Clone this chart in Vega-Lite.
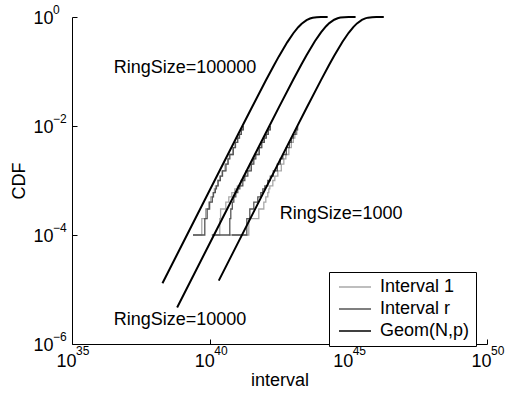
{
  "$schema": "https://vega.github.io/schema/vega-lite/v6.json",
  "width": 415,
  "height": 327,
  "autosize": {"type": "none"},
  "padding": {"left": 72, "top": 17, "right": 20, "bottom": 49},
  "background": "white",
  "config": {
    "view": {"stroke": null},
    "font": "Liberation Sans",
    "axis": {
      "grid": false,
      "domainColor": "black",
      "tickColor": "black",
      "labelColor": "black",
      "titleColor": "black",
      "labelFontSize": 18,
      "titleFontSize": 18,
      "titleFontWeight": "normal",
      "labelFont": "Liberation Sans",
      "titleFont": "Liberation Sans",
      "tickSize": -5,
      "labelFlush": false,
      "labelOverlap": false
    }
  },
  "datasets": {
    "curves": [
      {"series": "Geom(N,p)", "ring": "100000", "x": 1.86e38, "F": 1.302e-5},
      {"series": "Geom(N,p)", "ring": "100000", "x": 1e41, "F": 0.006976},
      {"series": "Geom(N,p)", "ring": "100000", "x": 3e41, "F": 0.02078},
      {"series": "Geom(N,p)", "ring": "100000", "x": 1e42, "F": 0.06761},
      {"series": "Geom(N,p)", "ring": "100000", "x": 2e42, "F": 0.1306},
      {"series": "Geom(N,p)", "ring": "100000", "x": 3e42, "F": 0.1894},
      {"series": "Geom(N,p)", "ring": "100000", "x": 6e42, "F": 0.343},
      {"series": "Geom(N,p)", "ring": "100000", "x": 1e43, "F": 0.5034},
      {"series": "Geom(N,p)", "ring": "100000", "x": 1.5e43, "F": 0.6501},
      {"series": "Geom(N,p)", "ring": "100000", "x": 2e43, "F": 0.7534},
      {"series": "Geom(N,p)", "ring": "100000", "x": 3e43, "F": 0.8775},
      {"series": "Geom(N,p)", "ring": "100000", "x": 4e43, "F": 0.9392},
      {"series": "Geom(N,p)", "ring": "100000", "x": 5e43, "F": 0.9698},
      {"series": "Geom(N,p)", "ring": "100000", "x": 7e43, "F": 0.99255},
      {"series": "Geom(N,p)", "ring": "100000", "x": 1e44, "F": 0.99909},
      {"series": "Geom(N,p)", "ring": "100000", "x": 1.74e44, "F": 0.999995},
      {"series": "Geom(N,p)", "ring": "10000", "x": 6.31e38, "F": 4.67e-6},
      {"series": "Geom(N,p)", "ring": "10000", "x": 1e42, "F": 0.007373},
      {"series": "Geom(N,p)", "ring": "10000", "x": 3e42, "F": 0.02196},
      {"series": "Geom(N,p)", "ring": "10000", "x": 1e43, "F": 0.07133},
      {"series": "Geom(N,p)", "ring": "10000", "x": 2e43, "F": 0.1376},
      {"series": "Geom(N,p)", "ring": "10000", "x": 3e43, "F": 0.1991},
      {"series": "Geom(N,p)", "ring": "10000", "x": 6e43, "F": 0.3585},
      {"series": "Geom(N,p)", "ring": "10000", "x": 1e44, "F": 0.5229},
      {"series": "Geom(N,p)", "ring": "10000", "x": 1.5e44, "F": 0.6704},
      {"series": "Geom(N,p)", "ring": "10000", "x": 2e44, "F": 0.7724},
      {"series": "Geom(N,p)", "ring": "10000", "x": 3e44, "F": 0.8914},
      {"series": "Geom(N,p)", "ring": "10000", "x": 4e44, "F": 0.9482},
      {"series": "Geom(N,p)", "ring": "10000", "x": 5e44, "F": 0.9753},
      {"series": "Geom(N,p)", "ring": "10000", "x": 7e44, "F": 0.99437},
      {"series": "Geom(N,p)", "ring": "10000", "x": 1e45, "F": 0.99939},
      {"series": "Geom(N,p)", "ring": "10000", "x": 1.78e45, "F": 0.999998},
      {"series": "Geom(N,p)", "ring": "1000", "x": 2.02e40, "F": 1.454e-5},
      {"series": "Geom(N,p)", "ring": "1000", "x": 1e43, "F": 0.007174},
      {"series": "Geom(N,p)", "ring": "1000", "x": 3e43, "F": 0.02137},
      {"series": "Geom(N,p)", "ring": "1000", "x": 1e44, "F": 0.06947},
      {"series": "Geom(N,p)", "ring": "1000", "x": 2e44, "F": 0.1341},
      {"series": "Geom(N,p)", "ring": "1000", "x": 3e44, "F": 0.1943},
      {"series": "Geom(N,p)", "ring": "1000", "x": 6e44, "F": 0.3508},
      {"series": "Geom(N,p)", "ring": "1000", "x": 1e45, "F": 0.5132},
      {"series": "Geom(N,p)", "ring": "1000", "x": 1.5e45, "F": 0.6604},
      {"series": "Geom(N,p)", "ring": "1000", "x": 2e45, "F": 0.7631},
      {"series": "Geom(N,p)", "ring": "1000", "x": 3e45, "F": 0.8847},
      {"series": "Geom(N,p)", "ring": "1000", "x": 4e45, "F": 0.9439},
      {"series": "Geom(N,p)", "ring": "1000", "x": 5e45, "F": 0.9727},
      {"series": "Geom(N,p)", "ring": "1000", "x": 7e45, "F": 0.99353},
      {"series": "Geom(N,p)", "ring": "1000", "x": 1e46, "F": 0.99925},
      {"series": "Geom(N,p)", "ring": "1000", "x": 1.86e46, "F": 0.999998}
    ],
    "ecdf": [
      {"series": "Interval 1", "ring": "100000", "x": 2.36e39, "F": 0.0001},
      {"series": "Interval 1", "ring": "100000", "x": 4.91e39, "F": 0.0002},
      {"series": "Interval 1", "ring": "100000", "x": 6.78e39, "F": 0.0003},
      {"series": "Interval 1", "ring": "100000", "x": 8.67e39, "F": 0.0004},
      {"series": "Interval 1", "ring": "100000", "x": 1.040e40, "F": 0.0005},
      {"series": "Interval 1", "ring": "100000", "x": 1.248e40, "F": 0.0006},
      {"series": "Interval 1", "ring": "100000", "x": 1.396e40, "F": 0.0007},
      {"series": "Interval 1", "ring": "100000", "x": 1.532e40, "F": 0.0008},
      {"series": "Interval 1", "ring": "100000", "x": 1.836e40, "F": 0.001},
      {"series": "Interval 1", "ring": "100000", "x": 2.203e40, "F": 0.0012},
      {"series": "Interval 1", "ring": "100000", "x": 2.640e40, "F": 0.0015},
      {"series": "Interval 1", "ring": "100000", "x": 3.378e40, "F": 0.002},
      {"series": "Interval 1", "ring": "100000", "x": 4.222e40, "F": 0.0025},
      {"series": "Interval 1", "ring": "100000", "x": 4.861e40, "F": 0.003},
      {"series": "Interval 1", "ring": "100000", "x": 6.481e40, "F": 0.004},
      {"series": "Interval 1", "ring": "100000", "x": 7.772e40, "F": 0.005},
      {"series": "Interval 1", "ring": "100000", "x": 9.721e40, "F": 0.006},
      {"series": "Interval 1", "ring": "100000", "x": 1.088e41, "F": 0.007},
      {"series": "Interval 1", "ring": "100000", "x": 1.321e41, "F": 0.0085},
      {"series": "Interval 1", "ring": "100000", "x": 1.491e41, "F": 0.01},
      {"series": "Interval r", "ring": "100000", "x": 2.36e39, "F": 0.0001},
      {"series": "Interval r", "ring": "100000", "x": 6.31e39, "F": 0.0002},
      {"series": "Interval r", "ring": "100000", "x": 7.68e39, "F": 0.0003},
      {"series": "Interval r", "ring": "100000", "x": 9.43e39, "F": 0.0004},
      {"series": "Interval r", "ring": "100000", "x": 1.178e40, "F": 0.0005},
      {"series": "Interval r", "ring": "100000", "x": 1.301e40, "F": 0.0006},
      {"series": "Interval r", "ring": "100000", "x": 1.518e40, "F": 0.0007},
      {"series": "Interval r", "ring": "100000", "x": 1.665e40, "F": 0.0008},
      {"series": "Interval r", "ring": "100000", "x": 1.915e40, "F": 0.001},
      {"series": "Interval r", "ring": "100000", "x": 2.298e40, "F": 0.0012},
      {"series": "Interval r", "ring": "100000", "x": 2.754e40, "F": 0.0015},
      {"series": "Interval r", "ring": "100000", "x": 3.672e40, "F": 0.002},
      {"series": "Interval r", "ring": "100000", "x": 4.401e40, "F": 0.0025},
      {"series": "Interval r", "ring": "100000", "x": 5.066e40, "F": 0.003},
      {"series": "Interval r", "ring": "100000", "x": 6.755e40, "F": 0.004},
      {"series": "Interval r", "ring": "100000", "x": 8.101e40, "F": 0.005},
      {"series": "Interval r", "ring": "100000", "x": 9.721e40, "F": 0.006},
      {"series": "Interval r", "ring": "100000", "x": 1.134e41, "F": 0.007},
      {"series": "Interval r", "ring": "100000", "x": 1.321e41, "F": 0.0085},
      {"series": "Interval r", "ring": "100000", "x": 1.554e41, "F": 0.01},
      {"series": "Interval 1", "ring": "10000", "x": 1.226e40, "F": 0.0001},
      {"series": "Interval 1", "ring": "10000", "x": 2.197e40, "F": 0.0002},
      {"series": "Interval 1", "ring": "10000", "x": 2.348e40, "F": 0.0003},
      {"series": "Interval 1", "ring": "10000", "x": 3.621e40, "F": 0.0004},
      {"series": "Interval 1", "ring": "10000", "x": 4.648e40, "F": 0.0005},
      {"series": "Interval 1", "ring": "10000", "x": 5.968e40, "F": 0.0006},
      {"series": "Interval 1", "ring": "10000", "x": 7.661e40, "F": 0.0007},
      {"series": "Interval 1", "ring": "10000", "x": 9.434e40, "F": 0.0008},
      {"series": "Interval 1", "ring": "10000", "x": 1.263e41, "F": 0.001},
      {"series": "Interval 1", "ring": "10000", "x": 1.555e41, "F": 0.0012},
      {"series": "Interval 1", "ring": "10000", "x": 1.915e41, "F": 0.0015},
      {"series": "Interval 1", "ring": "10000", "x": 2.672e41, "F": 0.002},
      {"series": "Interval 1", "ring": "10000", "x": 3.430e41, "F": 0.0025},
      {"series": "Interval 1", "ring": "10000", "x": 4.052e41, "F": 0.003},
      {"series": "Interval 1", "ring": "10000", "x": 5.424e41, "F": 0.004},
      {"series": "Interval 1", "ring": "10000", "x": 6.960e41, "F": 0.005},
      {"series": "Interval 1", "ring": "10000", "x": 8.573e41, "F": 0.006},
      {"series": "Interval 1", "ring": "10000", "x": 9.712e41, "F": 0.007},
      {"series": "Interval 1", "ring": "10000", "x": 1.196e42, "F": 0.0085},
      {"series": "Interval 1", "ring": "10000", "x": 1.413e42, "F": 0.01},
      {"series": "Interval r", "ring": "10000", "x": 1.128e40, "F": 0.0001},
      {"series": "Interval r", "ring": "10000", "x": 5.052e40, "F": 0.0002},
      {"series": "Interval r", "ring": "10000", "x": 5.491e40, "F": 0.0003},
      {"series": "Interval r", "ring": "10000", "x": 6.222e40, "F": 0.0004},
      {"series": "Interval r", "ring": "10000", "x": 7.050e40, "F": 0.0005},
      {"series": "Interval r", "ring": "10000", "x": 8.325e40, "F": 0.0006},
      {"series": "Interval r", "ring": "10000", "x": 9.835e40, "F": 0.0007},
      {"series": "Interval r", "ring": "10000", "x": 1.162e41, "F": 0.0008},
      {"series": "Interval r", "ring": "10000", "x": 1.492e41, "F": 0.001},
      {"series": "Interval r", "ring": "10000", "x": 1.762e41, "F": 0.0012},
      {"series": "Interval r", "ring": "10000", "x": 2.262e41, "F": 0.0015},
      {"series": "Interval r", "ring": "10000", "x": 3.027e41, "F": 0.002},
      {"series": "Interval r", "ring": "10000", "x": 3.728e41, "F": 0.0025},
      {"series": "Interval r", "ring": "10000", "x": 4.403e41, "F": 0.003},
      {"series": "Interval r", "ring": "10000", "x": 5.894e41, "F": 0.004},
      {"series": "Interval r", "ring": "10000", "x": 7.257e41, "F": 0.005},
      {"series": "Interval r", "ring": "10000", "x": 8.941e41, "F": 0.006},
      {"series": "Interval r", "ring": "10000", "x": 1.056e42, "F": 0.007},
      {"series": "Interval r", "ring": "10000", "x": 1.247e42, "F": 0.0085},
      {"series": "Interval r", "ring": "10000", "x": 1.473e42, "F": 0.01},
      {"series": "Interval 1", "ring": "1000", "x": 4.648e40, "F": 0.0001},
      {"series": "Interval 1", "ring": "1000", "x": 2.458e41, "F": 0.0002},
      {"series": "Interval 1", "ring": "1000", "x": 5.653e41, "F": 0.0003},
      {"series": "Interval 1", "ring": "1000", "x": 8.573e41, "F": 0.0004},
      {"series": "Interval 1", "ring": "1000", "x": 1.013e42, "F": 0.0005},
      {"series": "Interval 1", "ring": "1000", "x": 1.196e42, "F": 0.0006},
      {"series": "Interval 1", "ring": "1000", "x": 1.300e42, "F": 0.0007},
      {"series": "Interval 1", "ring": "1000", "x": 1.413e42, "F": 0.0008},
      {"series": "Interval 1", "ring": "1000", "x": 1.814e42, "F": 0.001},
      {"series": "Interval 1", "ring": "1000", "x": 2.143e42, "F": 0.0012},
      {"series": "Interval 1", "ring": "1000", "x": 2.750e42, "F": 0.0015},
      {"series": "Interval 1", "ring": "1000", "x": 3.681e42, "F": 0.002},
      {"series": "Interval 1", "ring": "1000", "x": 4.534e42, "F": 0.0025},
      {"series": "Interval 1", "ring": "1000", "x": 5.355e42, "F": 0.003},
      {"series": "Interval 1", "ring": "1000", "x": 6.876e42, "F": 0.004},
      {"series": "Interval 1", "ring": "1000", "x": 8.465e42, "F": 0.005},
      {"series": "Interval 1", "ring": "1000", "x": 1.000e43, "F": 0.006},
      {"series": "Interval 1", "ring": "1000", "x": 1.133e43, "F": 0.007},
      {"series": "Interval 1", "ring": "1000", "x": 1.338e43, "F": 0.0085},
      {"series": "Interval 1", "ring": "1000", "x": 1.455e43, "F": 0.01},
      {"series": "Interval r", "ring": "1000", "x": 5.968e40, "F": 0.0001},
      {"series": "Interval r", "ring": "1000", "x": 2.081e41, "F": 0.0002},
      {"series": "Interval r", "ring": "1000", "x": 2.672e41, "F": 0.0003},
      {"series": "Interval r", "ring": "1000", "x": 3.728e41, "F": 0.0004},
      {"series": "Interval r", "ring": "1000", "x": 5.201e41, "F": 0.0005},
      {"series": "Interval r", "ring": "1000", "x": 6.677e41, "F": 0.0006},
      {"series": "Interval r", "ring": "1000", "x": 7.887e41, "F": 0.0007},
      {"series": "Interval r", "ring": "1000", "x": 9.318e41, "F": 0.0008},
      {"series": "Interval r", "ring": "1000", "x": 1.196e42, "F": 0.001},
      {"series": "Interval r", "ring": "1000", "x": 1.473e42, "F": 0.0012},
      {"series": "Interval r", "ring": "1000", "x": 1.891e42, "F": 0.0015},
      {"series": "Interval r", "ring": "1000", "x": 2.638e42, "F": 0.002},
      {"series": "Interval r", "ring": "1000", "x": 3.386e42, "F": 0.0025},
      {"series": "Interval r", "ring": "1000", "x": 4.173e42, "F": 0.003},
      {"series": "Interval r", "ring": "1000", "x": 5.583e42, "F": 0.004},
      {"series": "Interval r", "ring": "1000", "x": 7.168e42, "F": 0.005},
      {"series": "Interval r", "ring": "1000", "x": 8.465e42, "F": 0.006},
      {"series": "Interval r", "ring": "1000", "x": 1.000e43, "F": 0.007},
      {"series": "Interval r", "ring": "1000", "x": 1.231e43, "F": 0.0085},
      {"series": "Interval r", "ring": "1000", "x": 1.395e43, "F": 0.01}
    ],
    "labels": [
      {"label": "RingSize=100000", "x": 3.22e36, "F": 0.0938},
      {"label": "RingSize=10000", "x": 3.22e36, "F": 2.23e-6},
      {"label": "RingSize=1000", "x": 3.25e42, "F": 1.95e-4}
    ],
    "xexp": [
      {"x": 1e35, "F": 1e-6, "e": "35"},
      {"x": 1e40, "F": 1e-6, "e": "40"},
      {"x": 1e45, "F": 1e-6, "e": "45"},
      {"x": 1e50, "F": 1e-6, "e": "50"}
    ],
    "yexp": [
      {"x": 1e35, "F": 1, "e": "0"},
      {"x": 1e35, "F": 0.01, "e": "−2"},
      {"x": 1e35, "F": 0.0001, "e": "−4"},
      {"x": 1e35, "F": 1e-6, "e": "−6"}
    ]
  },
  "encoding": {
    "x": {
      "field": "x", "type": "quantitative",
      "scale": {"type": "log", "domain": [1e35, 1e50], "nice": false},
      "axis": {
        "title": "interval",
        "values": [1e35, 1e40, 1e45, 1e50],
        "labelExpr": "'10'",
        "labelAlign": "right",
        "labelBaseline": "top",
        "labelOffset": 4,
        "labelPadding": 13,
        "titlePadding": 1
      }
    },
    "y": {
      "field": "F", "type": "quantitative",
      "scale": {"type": "log", "domain": [1e-6, 1], "nice": false},
      "axis": {
        "title": "CDF",
        "values": [1e-6, 1e-4, 1e-2, 1],
        "labelExpr": "'10'",
        "labelAlign": "right",
        "labelBaseline": "middle",
        "labelPadding": 24,
        "labelOffset": 1,
        "titlePadding": 4
      }
    }
  },
  "layer": [
    {
      "data": {"name": "ecdf"},
      "transform": [{"filter": "datum.series === 'Interval 1'"}],
      "mark": {"type": "line", "interpolate": "step-after", "strokeWidth": 1.3},
      "encoding": {
        "color": {"field": "series", "type": "nominal",
          "scale": {"domain": ["Interval 1", "Interval r", "Geom(N,p)"], "range": ["#a8a8a8", "#555555", "#000000"]},
          "legend": {
            "orient": "none", "legendX": 257, "legendY": 255, "title": null,
            "strokeColor": "black", "fillColor": "white", "padding": 6,
            "symbolType": "M-2,0H2", "symbolSize": 256, "symbolStrokeWidth": 1.5,
            "symbolOffset": 11,
            "labelFontSize": 18, "labelFont": "Liberation Sans", "labelColor": "black",
            "labelOffset": 16, "rowPadding": 4, "cornerRadius": 0
          }
        },
        "detail": {"field": "ring"}
      }
    },
    {
      "data": {"name": "ecdf"},
      "transform": [{"filter": "datum.series === 'Interval r'"}],
      "mark": {"type": "line", "interpolate": "step-after", "strokeWidth": 1.3},
      "encoding": {
        "color": {"field": "series", "type": "nominal"},
        "detail": {"field": "ring"}
      }
    },
    {
      "data": {"name": "curves"},
      "mark": {"type": "line", "strokeWidth": 2},
      "encoding": {
        "color": {"field": "series", "type": "nominal"},
        "detail": {"field": "ring"}
      }
    },
    {
      "data": {"name": "labels"},
      "mark": {"type": "text", "align": "left", "baseline": "alphabetic", "fontSize": 18, "font": "Liberation Sans", "color": "black"},
      "encoding": {
        "text": {"field": "label"}
      }
    },
    {
      "data": {"name": "xexp"},
      "mark": {"type": "text", "align": "left", "baseline": "alphabetic", "fontSize": 12, "font": "Liberation Sans", "color": "black", "dx": 4, "dy": 11},
      "encoding": {
        "text": {"field": "e"}
      }
    },
    {
      "data": {"name": "yexp"},
      "mark": {"type": "text", "align": "left", "baseline": "alphabetic", "fontSize": 12, "font": "Liberation Sans", "color": "black", "dx": -19, "dy": -3},
      "encoding": {
        "text": {"field": "e"}
      }
    }
  ]
}
